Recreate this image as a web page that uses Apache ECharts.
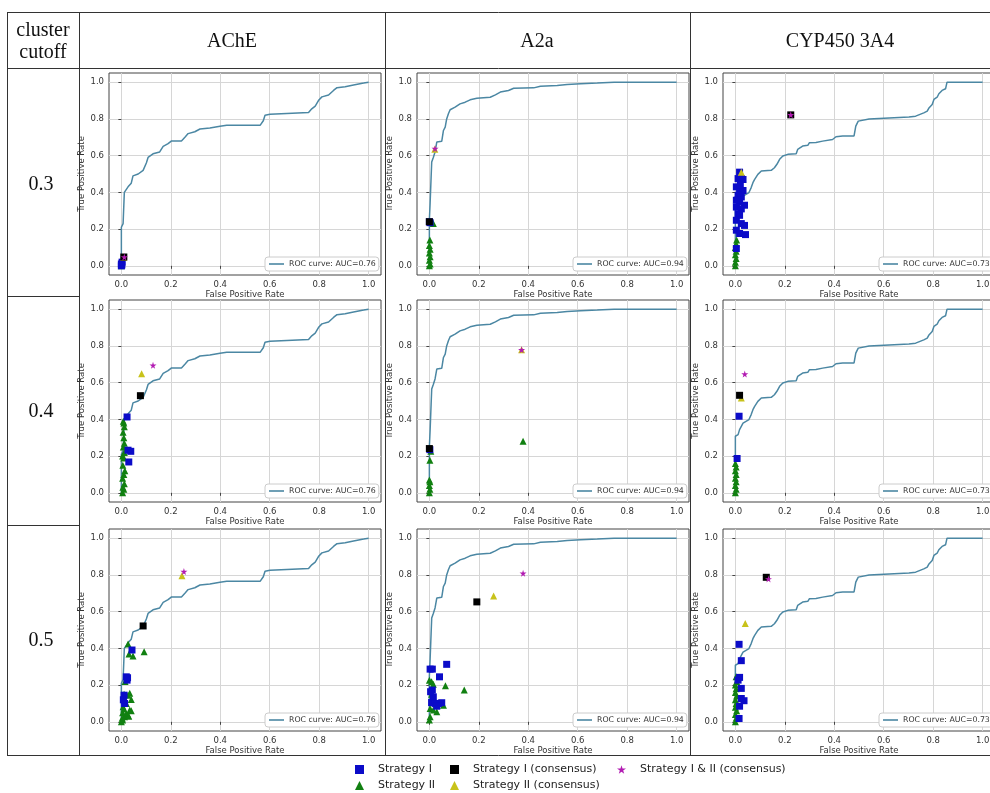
<!DOCTYPE html>
<html lang="en" style="height: 100%">
<head>
  <meta charset="utf-8" />
  <title>ROC curves per cluster cutoff</title>
</head>
<body style="height: 100%; margin: 0; background: #fff">
  <div id="container" style="width: 990px; height: 793px"></div>

  <script src="https://fastly.jsdelivr.net/npm/echarts@6/dist/echarts.min.js"></script>

  <script>
    // table headings
    const cutoffs = ['0.3', '0.4', '0.5'];
    const targets = ['AChE', 'A2a', 'CYP450 3A4'];
    const aucLabels = ['ROC curve: AUC=0.76', 'ROC curve: AUC=0.94', 'ROC curve: AUC=0.73'];
    const tickValues = [0, 0.2, 0.4, 0.6, 0.8, 1.0];

    // ROC curves [fpr, tpr], same curve for every cutoff
    const rocAChE = [[0,0],[0,0.21],[0.007,0.23],[0.012,0.40],[0.018,0.41],[0.027,0.43],[0.04,0.45],[0.047,0.49],
      [0.068,0.50],[0.088,0.52],[0.101,0.56],[0.108,0.59],[0.128,0.61],[0.155,0.62],[0.169,0.65],[0.189,0.665],
      [0.203,0.68],[0.243,0.68],[0.257,0.70],[0.27,0.72],[0.297,0.73],[0.318,0.745],[0.358,0.75],[0.399,0.76],
      [0.426,0.765],[0.561,0.765],[0.574,0.79],[0.581,0.82],[0.601,0.825],[0.669,0.83],[0.757,0.835],[0.77,0.855],
      [0.784,0.87],[0.797,0.90],[0.811,0.92],[0.838,0.93],[0.858,0.955],[0.872,0.97],[0.905,0.975],[0.939,0.985],
      [0.98,0.995],[1,1]];
    const rocA2a = [[0,0],[0,0.25],[0.003,0.34],[0.007,0.48],[0.0095,0.565],[0.016,0.59],[0.023,0.62],[0.03,0.674],
      [0.05,0.678],[0.057,0.737],[0.064,0.755],[0.07,0.80],[0.077,0.828],[0.084,0.85],[0.104,0.864],[0.124,0.882],
      [0.145,0.891],[0.165,0.904],[0.192,0.913],[0.246,0.918],[0.267,0.931],[0.287,0.946],[0.32,0.955],[0.341,0.967],
      [0.422,0.969],[0.449,0.978],[0.517,0.982],[0.557,0.987],[0.612,0.991],[0.679,0.995],[0.747,1],[1,1]];
    const rocCYP = [[0,0],[0,0.308],[0.011,0.317],[0.017,0.344],[0.024,0.362],[0.031,0.38],[0.038,0.39],[0.055,0.399],
      [0.064,0.426],[0.071,0.453],[0.078,0.471],[0.091,0.498],[0.105,0.516],[0.145,0.52],[0.158,0.534],[0.168,0.553],
      [0.179,0.58],[0.192,0.598],[0.212,0.607],[0.246,0.61],[0.252,0.634],[0.272,0.652],[0.293,0.656],[0.299,0.67],
      [0.326,0.672],[0.353,0.679],[0.393,0.688],[0.407,0.703],[0.434,0.707],[0.48,0.707],[0.487,0.761],[0.497,0.788],
      [0.541,0.80],[0.548,0.81],[0.702,0.81],[0.729,0.815],[0.762,0.833],[0.776,0.842],[0.783,0.86],[0.796,0.879],
      [0.803,0.906],[0.816,0.918],[0.823,0.937],[0.836,0.955],[0.85,0.964],[0.856,1],[1,1]];
    const rocCurves = [rocAChE, rocA2a, rocCYP];

    // strategy points [row = cutoff][col = target]
    const strategyI = [
      [[[0,0],[0,0.01],[0.003,0.02],[0.002,0.005]],
       [[0,0.24],[0.003,0.235]],
       [[0.017,0.51],[0.011,0.475],[0.024,0.475],[0.031,0.47],[0.004,0.43],[0.017,0.42],[0.031,0.41],[0.011,0.384],
        [0.024,0.375],[0.004,0.357],[0.017,0.348],[0.037,0.33],[0.004,0.32],[0.024,0.31],[0.011,0.284],[0.017,0.275],
        [0.004,0.248],[0.024,0.23],[0.037,0.22],[0.004,0.194],[0.017,0.176],[0.041,0.17],[0.004,0.094],[0.011,0.36],[0.02,0.44]]],
      [[[0.023,0.413],[0.027,0.232],[0.038,0.226],[0.03,0.168]],
       [[0.002,0.235]],
       [[0.015,0.417],[0.007,0.187]]],
      [[[0.043,0.391],[0.02,0.245],[0.023,0.227],[0.025,0.24],[0.011,0.145],[0.013,0.10],[0.008,0.12]],
       [[0.003,0.287],[0.012,0.287],[0.07,0.313],[0.041,0.245],[0.012,0.173],[0.009,0.105],[0.023,0.10],[0.037,0.10],
        [0.05,0.104],[0.016,0.136],[0.005,0.164],[0.03,0.085]],
       [[0.015,0.422],[0.024,0.333],[0.017,0.242],[0.024,0.182],[0.024,0.127],[0.035,0.115],[0.017,0.085],[0.015,0.018],[0.011,0.227]]]
    ];
    const strategyII = [
      [[[0,0],[0,0.01]],
       [[0,0],[0.003,0.01],[0,0.03],[0.003,0.05],[0,0.07],[0.003,0.09],[0,0.11],[0.002,0.14],[0.016,0.23]],
       [[0,0],[0,0.02],[0.003,0.04],[0,0.06],[0.003,0.08],[0,0.10],[0.005,0.14],[0.003,0.12]]],
      [[[0.005,0],[0.01,0.02],[0.006,0.03],[0.012,0.05],[0.005,0.08],[0.01,0.10],[0.014,0.12],[0.006,0.15],[0.01,0.19],
        [0.005,0.20],[0.012,0.22],[0.008,0.25],[0.012,0.27],[0.01,0.30],[0.007,0.33],[0.012,0.36],[0.01,0.38],[0.008,0.39]],
       [[0,0],[0.002,0.02],[0,0.04],[0.002,0.06],[0,0.07],[0.002,0.178],[0.006,0.226],[0.379,0.281]],
       [[0,0],[0.003,0.02],[0,0.04],[0.003,0.06],[0,0.08],[0.003,0.10],[0,0.12],[0.003,0.14],[0,0.16]]],
      [[[0.005,0.01],[0.013,0.027],[0.02,0.045],[0.027,0.036],[0.034,0.064],[0.007,0.082],[0.02,0.1],[0.013,0.127],
        [0.027,0.145],[0.034,0.155],[0.04,0.122],[0.011,0.15],[0.005,0.05],[0.01,0.07],[0.003,0.02],[0.015,0.22],
        [0.027,0.424],[0.031,0.369],[0.047,0.358],[0.092,0.382],[0,0],[0.03,0.03],[0.04,0.06]],
       [[0,0.227],[0.009,0.218],[0.016,0.205],[0.065,0.196],[0.141,0.173],[0,0.01],[0.003,0.027],[0.003,0.073],
        [0.016,0.064],[0.03,0.055],[0.057,0.09],[0.009,0.15]],
       [[0,0],[0.003,0.02],[0,0.04],[0.005,0.06],[0,0.08],[0.003,0.1],[0,0.12],[0.005,0.14],[0,0.16],[0.003,0.18],
        [0,0.2],[0.005,0.22],[0.003,0.245]]]
    ];
    const strategyIConsensus = [
      [[[0.01,0.048]], [[0,0.24]], [[0.224,0.822]]],
      [[[0.077,0.529]], [[0,0.241]], [[0.017,0.531]]],
      [[[0.088,0.522]], [[0.192,0.653]], [[0.125,0.787]]]
    ];
    const strategyIIConsensus = [
      [[[0.01,0.046]], [[0.022,0.635]], [[0.024,0.51]]],
      [[[0.082,0.649]], [[0.373,0.779]], [[0.024,0.516]]],
      [[[0.245,0.795]], [[0.26,0.685]], [[0.04,0.536]]]
    ];
    const strategyIandIIConsensus = [
      [[[0.012,0.048]], [[0.023,0.638]], [[0.224,0.822]]],
      [[[0.128,0.694]], [[0.373,0.779]], [[0.038,0.647]]],
      [[[0.253,0.818]], [[0.379,0.809]], [[0.134,0.778]]]
    ];

    const gridLefts = [109, 417, 723];
    const gridTops = [73, 300, 529];
    const starPath = 'path://M50,0 L61,35 L98,35 L68,57 L79,91 L50,70 L21,91 L32,57 L2,35 L39,35 Z';

    const lineColor = '#4b87a3';
    const labelFont = { fontFamily: 'DejaVu Sans', fontSize: 8.5, color: '#333' };

    const grids = [], xAxes = [], yAxes = [], series = [], legends = [];

    for (let r = 0; r < 3; r++) {
      for (let c = 0; c < 3; c++) {
        const idx = grids.length;
        grids.push({
          left: gridLefts[c], top: gridTops[r], width: 272, height: 202,
          show: true, borderColor: '#444', borderWidth: 1, backgroundColor: '#fff',
          outerBoundsMode: 'none', containLabel: false
        });
        xAxes.push({
          gridIndex: idx, type: 'value', min: -0.05, max: 1.05, splitNumber: 5,
          name: 'False Positive Rate', nameLocation: 'middle', nameGap: 15,
          nameTextStyle: labelFont,
          axisLine: { show: false },
          axisTick: { show: true, customValues: tickValues, length: 3, lineStyle: { color: '#444' } },
          axisLabel: Object.assign({ customValues: tickValues, margin: 5, formatter: v => v.toFixed(1) }, labelFont),
          splitLine: { show: true, lineStyle: { color: '#d6d6d6' } }
        });
        yAxes.push({
          gridIndex: idx, type: 'value', min: -0.05, max: 1.05, splitNumber: 5,
          name: 'True Positive Rate', nameLocation: 'middle', nameGap: 17,
          nameTextStyle: labelFont,
          axisLine: { show: false },
          axisTick: { show: true, customValues: tickValues, length: 3, lineStyle: { color: '#444' } },
          axisLabel: Object.assign({ customValues: tickValues, margin: 5, formatter: v => v.toFixed(1) }, labelFont),
          splitLine: { show: true, lineStyle: { color: '#d6d6d6' } }
        });

        series.push({
          name: aucLabels[c], type: 'line', xAxisIndex: idx, yAxisIndex: idx,
          data: rocCurves[c], symbol: 'none', lineStyle: { color: lineColor, width: 1.5 },
          itemStyle: { color: lineColor }, z: 2
        });
        series.push({
          name: 'Strategy II', type: 'scatter', xAxisIndex: idx, yAxisIndex: idx,
          data: strategyII[r][c], symbol: 'triangle', symbolSize: 7,
          itemStyle: { color: '#118011', opacity: 1 }, z: 3
        });
        series.push({
          name: 'Strategy I', type: 'scatter', xAxisIndex: idx, yAxisIndex: idx,
          data: strategyI[r][c], symbol: 'rect', symbolSize: 7,
          itemStyle: { color: '#0b0bc8', opacity: 1 }, z: 4
        });
        series.push({
          name: 'Strategy II (consensus)', type: 'scatter', xAxisIndex: idx, yAxisIndex: idx,
          data: strategyIIConsensus[r][c], symbol: 'triangle', symbolSize: 7,
          itemStyle: { color: '#c8c21a', opacity: 1 }, z: 5
        });
        series.push({
          name: 'Strategy I (consensus)', type: 'scatter', xAxisIndex: idx, yAxisIndex: idx,
          data: strategyIConsensus[r][c], symbol: 'rect', symbolSize: 7,
          itemStyle: { color: '#000', opacity: 1 }, z: 6
        });
        series.push({
          name: 'Strategy I & II (consensus)', type: 'scatter', xAxisIndex: idx, yAxisIndex: idx,
          data: strategyIandIIConsensus[r][c], symbol: starPath, symbolSize: 7,
          itemStyle: { color: '#b21cb2', opacity: 1 }, z: 7
        });

        // ROC legend in the lower right corner of each panel
        legends.push({
          data: [{ name: aucLabels[c], icon: 'rect' }],
          left: gridLefts[c] + 272 - 116, top: gridTops[r] + 202 - 18,
          orient: 'horizontal', padding: [3, 3, 3, 4],
          itemWidth: 15, itemHeight: 1.6,
          borderColor: '#ccc', borderWidth: 1, borderRadius: 3, backgroundColor: '#fff',
          textStyle: { fontFamily: 'DejaVu Sans', fontSize: 7.8, color: '#333', padding: [0, 0, 0, 0] },
          selectedMode: false
        });
      }
    }

    // bottom legend, five separate items laid out in two rows
    const bottomLegend = [
      { name: 'Strategy I', icon: 'rect', color: '#0b0bc8', left: 355, top: 764 },
      { name: 'Strategy I (consensus)', icon: 'rect', color: '#000', left: 450, top: 764 },
      { name: 'Strategy I & II (consensus)', icon: starPath, color: '#b21cb2', left: 617, top: 764 },
      { name: 'Strategy II', icon: 'triangle', color: '#118011', left: 355, top: 780 },
      { name: 'Strategy II (consensus)', icon: 'triangle', color: '#c8c21a', left: 450, top: 780 }
    ];
    for (const item of bottomLegend) {
      legends.push({
        data: [{ name: item.name, icon: item.icon, itemStyle: { color: item.color } }],
        left: item.left, top: item.top, padding: 0,
        itemWidth: 9, itemHeight: 9, selectedMode: false,
        textStyle: { fontFamily: 'DejaVu Sans', fontSize: 11, color: '#222', padding: [0, 0, 0, 9] }
      });
    }

    // table lines and header texts
    const line = (x1, y1, x2, y2) => ({
      type: 'line', shape: { x1, y1, x2, y2 }, style: { stroke: '#333', lineWidth: 1 }, z: 100
    });
    const serif = (text, x, y) => ({
      type: 'text', x, y, z: 100,
      style: { text, font: '20px "Liberation Serif", serif', fill: '#111', align: 'center', verticalAlign: 'middle' }
    });
    const graphics = [
      line(7, 12.5, 990, 12.5),
      line(7, 68.5, 990, 68.5),
      line(7, 755.5, 990, 755.5),
      line(7, 296.5, 79, 296.5),
      line(7, 525.5, 79, 525.5),
      line(7.5, 12, 7.5, 756),
      line(79.5, 12, 79.5, 756),
      line(385.5, 12, 385.5, 756),
      line(690.5, 12, 690.5, 756),
      serif('cluster', 43, 31),
      serif('cutoff', 43, 53),
      serif(targets[0], 232, 42),
      serif(targets[1], 537, 42),
      serif(targets[2], 840, 42),
      serif(cutoffs[0], 41, 185),
      serif(cutoffs[1], 41, 412),
      serif(cutoffs[2], 41, 641)
    ];

    var dom = document.getElementById('container');
    var myChart = echarts.init(dom, null, { renderer: 'canvas' });

    var option = {
      backgroundColor: '#fff',
      animation: false,
      grid: grids,
      xAxis: xAxes,
      yAxis: yAxes,
      legend: legends,
      series: series,
      graphic: graphics
    };

    myChart.setOption(option);
  </script>
</body>
</html>
